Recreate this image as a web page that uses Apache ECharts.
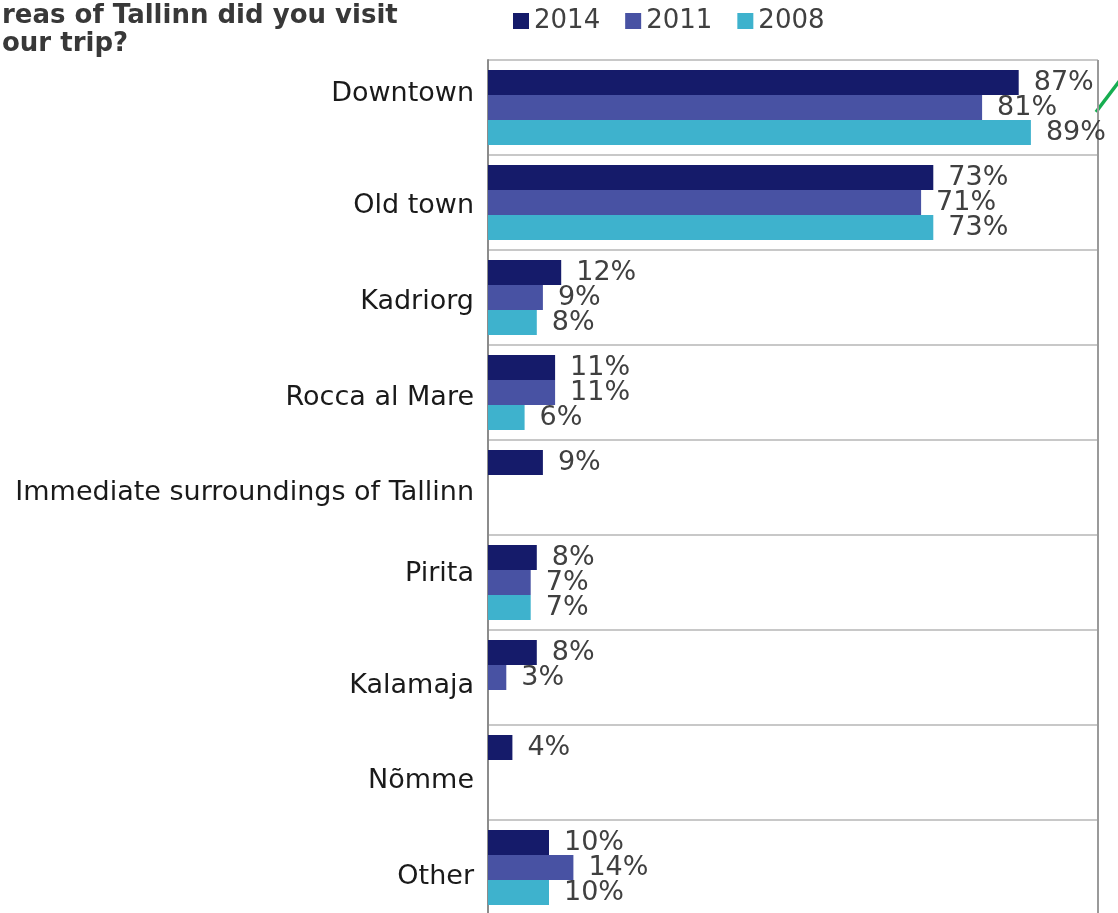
<!DOCTYPE html>
<html>
<head>
<meta charset="utf-8">
<script src="https://cdn.jsdelivr.net/npm/echarts@6/dist/echarts.min.js"></script>
<style>
html,body{margin:0;padding:0;background:#fff;overflow:hidden;}
#chart{width:1118px;height:930px;}
</style>
</head>
<body>
<div id="chart"></div>
<script>
const categories = ['Downtown','Old town','Kadriorg','Rocca al Mare','Immediate surroundings of Tallinn','Pirita','Kalamaja','Nõmme','Other'];
const seriesNames = ['2014','2011','2008'];
const values2014 = [87, 73, 12, 11, 9, 8, 8, 4, 10];
const values2011 = [81, 71, 9, 11, null, 7, 3, null, 14];
const values2008 = [89, 73, 8, 6, null, 7, null, null, 10];
const titleLines = ['reas of Tallinn did you visit', 'our trip?'];

// style only: vertical nudge (px) of each category label, as placed in the reference
const labelNudge = [-14, 3, 4, 5, 5, -9, 8, 8, 9];

const colors = ['#151b6a', '#4852a3', '#3eb2cd'];
const font = 'DejaVu Sans, Verdana, sans-serif';

const chart = echarts.init(document.getElementById('chart'), null, {renderer: 'canvas'});

function mkSeries(name, data, color) {
  return {
    name: name,
    type: 'bar',
    data: data,
    barWidth: 25,
    barGap: '0%',
    itemStyle: {color: color},
    label: {
      show: true,
      position: 'right',
      distance: 15,
      formatter: function (p) { return p.value == null ? '' : p.value + '%'; },
      fontFamily: font,
      fontSize: 27,
      color: '#404040'
    }
  };
}

const rich = {};
labelNudge.forEach(function (d, i) {
  rich['c' + i] = {
    fontFamily: font,
    fontSize: 27,
    color: '#1a1a1a',
    padding: d >= 0 ? [2 * d, 0, 0, 0] : [0, 0, -2 * d, 0]
  };
});

const option = {
  animation: false,
  backgroundColor: '#ffffff',
  textStyle: {fontFamily: font},
  legend: {
    data: seriesNames,
    left: 508,
    top: 2,
    padding: 5,
    icon: 'rect',
    itemWidth: 16,
    itemHeight: 16,
    itemGap: 25,
    textStyle: {fontFamily: font, fontSize: 26, color: '#404040', lineHeight: 28}
  },
  graphic: [
    {type: 'text', left: 2, top: 3, style: {text: titleLines[0], font: 'bold 26px DejaVu Sans', fill: '#383838'}},
    {type: 'text', left: 2, top: 31, style: {text: titleLines[1], font: 'bold 26px DejaVu Sans', fill: '#383838'}},
    {type: 'line', shape: {x1: 1096, y1: 112, x2: 1121, y2: 79}, style: {stroke: '#16ad50', lineWidth: 3.5}}
  ],
  grid: {left: 488, top: 60, width: 610, height: 855, containLabel: false},
  xAxis: {
    type: 'value',
    min: 0,
    max: 100,
    interval: 100,
    axisLine: {show: false},
    axisTick: {show: false},
    axisLabel: {show: false},
    splitLine: {show: true, lineStyle: {color: '#9a9a9a', width: 2}}
  },
  yAxis: {
    type: 'category',
    inverse: true,
    data: categories,
    axisLine: {show: true, lineStyle: {color: '#8c8c8c', width: 2}},
    axisTick: {show: false},
    axisLabel: {
      fontFamily: font, fontSize: 27, color: '#1a1a1a', margin: 14,
      formatter: function (v, i) { return '{c' + i + '|' + v + '}'; },
      rich: rich
    },
    splitLine: {show: true, lineStyle: {color: '#c8c8c8', width: 2}}
  },
  series: [
    mkSeries(seriesNames[0], values2014, colors[0]),
    mkSeries(seriesNames[1], values2011, colors[1]),
    mkSeries(seriesNames[2], values2008, colors[2])
  ]
};
chart.setOption(option);
</script>
</body>
</html>
